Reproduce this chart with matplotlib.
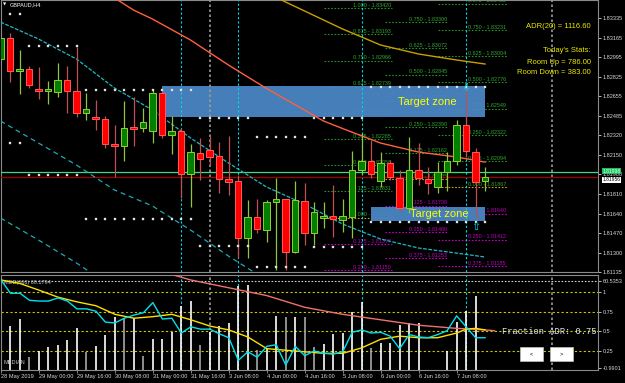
import numpy as np
import matplotlib.pyplot as plt
from matplotlib.patches import Rectangle

plt.rcParams['font.family'] = ['Liberation Sans', 'DejaVu Sans']

W, H = 625, 383

# ---- GBPAUD H4 candles (bar index 0 = 28 May 2019 08:00) ----
opens = [1.82979, 1.83162, 1.82875, 1.82893, 1.82719, 1.82702, 1.82693, 1.82797, 1.82702, 1.82511,
         1.82477, 1.82459, 1.82243, 1.82225, 1.82386, 1.82381, 1.82355, 1.82685, 1.82321, 1.82355,
         1.81982, 1.82164, 1.82190, 1.82138, 1.81939, 1.81922, 1.81428, 1.81610, 1.81497, 1.81740,
         1.81766, 1.81306, 1.81748, 1.81471, 1.81601, 1.81618, 1.81584, 1.81610, 1.82017, 1.82095,
         1.81922, 1.82078, 1.81948, 1.81688, 1.82017, 1.81939, 1.81870, 1.82000, 1.82095, 1.82407,
         1.82173, 1.81922]
highs = [1.83179, 1.83205, 1.83057, 1.82919, 1.82910, 1.82789, 1.82945, 1.82919, 1.83084, 1.82685,
         1.82624, 1.82485, 1.82407, 1.82615, 1.82650, 1.82555, 1.82711, 1.82693, 1.82485, 1.82381,
         1.82243, 1.82295, 1.82321, 1.82260, 1.82312, 1.81974, 1.81757, 1.81766, 1.81757, 1.81948,
         1.81770, 1.81922, 1.81904, 1.81740, 1.81740, 1.81887, 1.81766, 1.82182, 1.82338, 1.82277,
         1.82173, 1.82104, 1.82017, 1.82303, 1.82251, 1.82043, 1.82086, 1.82173, 1.82451, 1.82728,
         1.82208, 1.82043]
lows = [1.82953, 1.82780, 1.82676, 1.82728, 1.82633, 1.82589, 1.82650, 1.82511, 1.82477, 1.82451,
        1.82364, 1.82208, 1.81956, 1.82095, 1.82225, 1.82347, 1.82251, 1.82295, 1.82156, 1.81774,
        1.81696, 1.81930, 1.82060, 1.81818, 1.81800, 1.81254, 1.81254, 1.81471, 1.81393, 1.81150,
        1.81150, 1.81297, 1.81367, 1.81367, 1.81514, 1.81436, 1.81480, 1.81428, 1.81974, 1.81948,
        1.81870, 1.81930, 1.81662, 1.81644, 1.81887, 1.81809, 1.81818, 1.81835, 1.82060, 1.82130,
        1.81601, 1.81835]
closes = [1.83162, 1.82875, 1.82893, 1.82754, 1.82702, 1.82711, 1.82797, 1.82702, 1.82511, 1.82546,
          1.82459, 1.82243, 1.82225, 1.82381, 1.82373, 1.82433, 1.82685, 1.82321, 1.82355, 1.81982,
          1.82173, 1.82112, 1.82130, 1.81939, 1.81913, 1.81428, 1.81610, 1.81506, 1.81740, 1.81766,
          1.81306, 1.81757, 1.81471, 1.81653, 1.81618, 1.81592, 1.81618, 1.82017, 1.82095, 1.81982,
          1.82078, 1.81956, 1.81688, 1.82017, 1.81948, 1.81904, 1.82000, 1.82095, 1.82407, 1.82182,
          1.81913, 1.81956]

time_ticks = [0, 4, 8, 12, 16, 20, 24, 28, 32, 36, 40, 44, 48]
time_labels = ['28 May 2019', '29 May 00:00', '29 May 16:00', '30 May 08:00', '31 May 00:00',
               '31 May 16:00', '3 Jun 08:00', '4 Jun 00:00', '4 Jun 16:00', '5 Jun 08:00',
               '6 Jun 00:00', '6 Jun 16:00', '7 Jun 08:00']

price_ticks = [1.83335, 1.83165, 1.82995, 1.82825, 1.82655, 1.82485, 1.82320, 1.82150,
               1.81980, 1.81810, 1.81640, 1.81470, 1.81300, 1.81135]

# moving averages
ma_red_x = [12, 14, 16, 20, 24, 28, 32, 34, 36, 40, 44, 48, 51]
ma_red = [1.83508, 1.83404, 1.83326, 1.83144, 1.82927, 1.82724, 1.82537, 1.82442, 1.82377,
          1.82251, 1.82173, 1.82130, 1.82086]
ma_gold_x = [28, 32, 36, 40, 44, 48, 51]
ma_gold = [1.83552, 1.83396, 1.83240, 1.83101, 1.83023, 1.82971, 1.82936]
ma_cyan_x = [0, 4, 8, 12, 16, 20, 24, 28, 32, 36, 40, 44, 48, 51]
ma_cyan = [1.83300, 1.83153, 1.82979, 1.82728, 1.82537, 1.82295, 1.82078, 1.81870, 1.81722,
           1.81549, 1.81419, 1.81341, 1.81297, 1.81263]
band_mid_x = [0, 4, 8, 12, 16, 20, 24, 28]
band_mid = [1.82442, 1.82251, 1.82060, 1.81844, 1.81705, 1.81497, 1.81271, 1.81063]
band_low_x = [0, 4, 8, 12]
band_low = [1.81601, 1.81410, 1.81211, 1.80990]

# dotted support / resistance segments
dot_start = [0, 3, 9, 21, 27, 33, 39]
dot_end = [2, 8, 20, 26, 32, 38, 51]
dot_high = [1.83370, 1.83092, 1.82711, 1.82468, 1.82303, 1.82468, 1.82737]
dot_low = [1.82251, 1.81974, 1.81592, 1.81358, 1.81176, 1.81350, 1.81566]

# target zones
zone_start = [17, 39]
zone_end = [51, 51]
zone_bottom = [1.82477, 1.81575]
zone_top = [1.82745, 1.81696]

# daily fibonacci grids
fib_spans = [(34.0, 41.2), (40.5, 47.1), (46.0, 53.3)]
fib_prices = [
    [1.83420, 1.83193, 1.82966, 1.82739, 1.82512, 1.82285, 1.82058, 1.81831, 1.81604, 1.81377, 1.81150],
    [1.83527, 1.83300, 1.83072, 1.82845, 1.82617, 1.82390, 1.82162, 1.81935, 1.81708, 1.81480, 1.81253],
    [1.83458, 1.83231, 1.83004, 1.82776, 1.82549, 1.82322, 1.82094, 1.81867, 1.81640, 1.81412, 1.81185],
]
fib_ratios = [
    ['1.000', '0.875', '0.750', '0.625', '0.500', '0.375', '0.250', '0.125', '0.000', '0.125', '0.250'],
    ['0.875', '0.750', '0.625', '0.500', '0.375', '0.250', '0.125', '0.000', '0.125', '0.250', '0.375'],
    ['0.875', '0.750', '0.625', '0.500', '0.375', '0.250', '0.125', '0.000', '0.125', '0.250', '0.375'],
]

ask_price = 1.81998
bid_price = 1.81956
cyan_vlines = [19, 25, 38, 49]
gray_vlines = [22, 58]

# lower indicator panel
frac_cyan = [1.16, 0.99, 0.99, 0.90, 0.89, 0.89, 0.93, 0.89, 0.79, 0.79, 0.76, 0.62, 0.61,
             0.67, 0.71, 0.74, 0.87, 0.66, 0.67, 0.48, 0.56, 0.53, 0.53, 0.47, 0.42, 0.13,
             0.24, 0.17, 0.31, 0.33, 0.07, 0.31, 0.19, 0.25, 0.22, 0.21, 0.24, 0.49, 0.52,
             0.48, 0.49, 0.44, 0.28, 0.46, 0.43, 0.42, 0.46, 0.51, 0.70, 0.56, 0.42, 0.42]
frac_gold_x = [0, 2, 4, 6, 8, 10, 12, 14, 16, 18, 20, 22, 24, 26, 28, 30, 32, 34, 36, 38,
               40, 42, 44, 46, 48, 49, 50, 51]
frac_gold = [1.16, 1.115, 1.03, 0.94, 0.88, 0.83, 0.72, 0.67, 0.69, 0.72, 0.65, 0.57, 0.52,
             0.43, 0.28, 0.26, 0.24, 0.22, 0.22, 0.29, 0.40, 0.44, 0.42, 0.42, 0.48, 0.53,
             0.54, 0.52]
frac_red_x = [18, 20, 24, 28, 32, 36, 40, 44, 48, 51, 52]
frac_red = [1.23, 1.16, 1.06, 0.96, 0.81, 0.72, 0.65, 0.58, 0.54, 0.52, 0.51]
frac_hist = [0, 0.57, 0.66, 0.17, 0.25, 0.30, 0.33, 0.39, 0.54, 0.24, 0.31, 0.46, 0.69, 0.67,
             0.67, 0.19, 0.40, 0.40, 0.49, 0.83, 0.89, 0.33, 0.49, 0.57, 0.61, 1.08, 1.10,
             0.26, 0.28, 0.70, 0.69, 0.69, 0.68, 0.30, 0.34, 0.47, 0.48, 0.75, 0.88, 0.29,
             0.35, 0.35, 0.58, 0.61, 0.61, 0, 0, 0.25, 0.62, 0.76, 0.96, 0]
frac_levels = [1.0, 0.75, 0.5, 0.25]
median_level = 1.147
frac_ticks = [1.147, 1.0, 0.75, 0.5, 0.25, 0.03]
frac_tick_labels = ['60.5353', '1', '0.75', '0.5', '0.25', '-0.9901']


def fx(px):
    return px / W


def fy(py):
    return 1 - py / H


fig = plt.figure(figsize=(W / 100, H / 100), dpi=100, facecolor='black')

xlim = ((1 - 0.5) / 9.5, (598 - 0.5) / 9.5)
ylim = (1.81133, 1.83491)
ax = fig.add_axes([fx(1), fy(272), fx(597), 272 / H], facecolor='black')
ax.set_xlim(*xlim)
ax.set_ylim(*ylim)

# fibonacci grids (behind zones)
for (x0, x1), prices, ratios in zip(fib_spans, fib_prices, fib_ratios):
    below = False
    for p, r in zip(prices, ratios):
        if r == '0.000':
            lc, tc = '#d4a017', '#2fa82f'
        elif below:
            lc, tc = '#c000c0', '#c000c0'
        else:
            lc, tc = '#2a8f2a', '#2fa82f'
        ax.plot([x0, x1], [p, p], color=lc, lw=0.8, dashes=(1.5, 1.5), zorder=2)
        if p < ylim[1]:
            ax.text(x1 - 0.1, p + 0.00003, f'{r} - {p:.5f}', color=tc, fontsize=3.9,
                    ha='right', va='bottom', zorder=2, clip_on=True)
        if r == '0.000':
            below = True

# target zones
label_frac = [0.82, 0.6]
for s, e, b, t, lf in zip(zone_start, zone_end, zone_bottom, zone_top, label_frac):
    ax.add_patch(Rectangle((s, b), e - s, t - b, facecolor='#4a86c4', edgecolor='none',
                           alpha=0.95, zorder=3))
    ax.text(s + (e - s) * lf, (b + t) / 2, 'Target zone',
            color='#ffff00', fontsize=8, ha='center', va='center', zorder=8)

# vertical markers
for v in cyan_vlines:
    ax.axvline(v, color='#00d8e8', lw=0.8, dashes=(2, 2), zorder=3.5)
for v in gray_vlines:
    ax.axvline(v, color='#9a9a9a', lw=1.2, dashes=(1.5, 1.5), zorder=3.5)

# price lines
ax.axhline(ask_price, color='#3ddc84', lw=0.9, zorder=3.6)
ax.axhline(bid_price, color='#a00000', lw=0.9, zorder=3.6)

# moving averages and bands
ax.plot(ma_red_x, ma_red, color='#ff6040', lw=1.0, zorder=4)
ax.plot(ma_gold_x, ma_gold, color='#c8a000', lw=1.0, zorder=4)
ax.plot(ma_cyan_x, ma_cyan, color='#1fb8c3', lw=0.9, dashes=(3, 1.2), zorder=4)
ax.plot(band_mid_x, band_mid, color='#1fa8b8', lw=0.9, dashes=(4, 3), zorder=4)
ax.plot(band_low_x, band_low, color='#1fa8b8', lw=0.9, dashes=(4, 3), zorder=4)

# candles
bw = 0.7
for i in range(len(opens)):
    o, hi, lo, c = opens[i], highs[i], lows[i], closes[i]
    up = c >= o
    ax.vlines(i, lo, hi, color='#8cc63f' if up else '#c05050', lw=0.9, zorder=5)
    ax.add_patch(Rectangle((i - bw / 2, min(o, c)), bw, max(abs(c - o), 0.00015),
                           facecolor='#008000' if up else '#ff0000',
                           edgecolor='#9acd32' if up else '#ff5a5a', lw=0.7, zorder=6))

# dotted levels
for s, e, hp, lp in zip(dot_start, dot_end, dot_high, dot_low):
    xs = np.arange(s, e + 1)
    ax.plot(xs, [hp] * len(xs), 's', color='white', ms=2.0, mec='#b0b0b0', mew=0.3, zorder=7)
    ax.plot(xs, [lp] * len(xs), 's', color='white', ms=2.0, mec='#b0b0b0', mew=0.3, zorder=7)

# signal arrows
ax.text(49, highs[49] + 0.00005, '\u21e9', color='#00d8e8', fontsize=8, ha='center',
        va='center', family='DejaVu Sans', zorder=8)
ax.text(50, lows[50] - 0.00078, '\u21e7', color='#00d8e8', fontsize=8, ha='center',
        va='center', family='DejaVu Sans', zorder=8)

ax.yaxis.tick_right()
ax.set_yticks(price_ticks)
ax.set_yticklabels([f'{p:.5f}' for p in price_ticks])
ax.tick_params(axis='y', colors='#d8d8d8', labelsize=4, length=2, pad=1.5, width=0.6)
ax.set_xticks([])
for sp in ax.spines.values():
    sp.set_color('#8a8a8a')
    sp.set_linewidth(0.8)

# price boxes on the axis
ax.annotate(f'{ask_price:.5f}', xy=(1.0, ask_price), xycoords=('axes fraction', 'data'),
            xytext=(3, 0.8), textcoords='offset points', fontsize=3.6, color='#f0fff0',
            va='center', ha='left',
            bbox=dict(boxstyle='square,pad=0.1', fc='#19c060', ec='none'), zorder=10,
            annotation_clip=False)
ax.annotate(f'{bid_price:.5f}', xy=(1.0, bid_price), xycoords=('axes fraction', 'data'),
            xytext=(3, -1.8), textcoords='offset points', fontsize=3.6, color='black',
            va='center', ha='left',
            bbox=dict(boxstyle='square,pad=0.1', fc='white', ec='none'), zorder=11,
            annotation_clip=False)

# ---- indicator panel ----
ax2 = fig.add_axes([fx(1), fy(370), fx(597), 95 / H], facecolor='black')
ax2.set_xlim(*xlim)
ax2.set_ylim(0.0064, 1.224)

for lv in frac_levels:
    ax2.axhline(lv, color='#c8c800', lw=0.8, dashes=(2, 2), zorder=1)
ax2.axhline(median_level, color='#d0d0d0', lw=0.8, dashes=(1.5, 1.5), zorder=1)
for v in cyan_vlines:
    ax2.axvline(v, color='#00d8e8', lw=0.8, dashes=(2, 2), zorder=1)
for v in gray_vlines:
    ax2.axvline(v, color='#9a9a9a', lw=1.2, dashes=(1.5, 1.5), zorder=1)

for i, hv in enumerate(frac_hist):
    if hv <= 0:
        continue
    prev = frac_hist[i - 1] if i > 0 else 0
    ax2.vlines(i, 0, hv, color='white' if hv >= prev else '#a8a8a8', lw=1.2, zorder=2)

ax2.plot(frac_red_x, frac_red, color='#f07070', lw=1.0, zorder=3)
ax2.plot(frac_gold_x, frac_gold, color='#ffe000', lw=1.0, zorder=4)
ax2.plot(range(len(frac_cyan)), frac_cyan, color='#00e0f0', lw=1.0, zorder=5)

ax2.yaxis.tick_right()
ax2.set_yticks(frac_ticks)
ax2.set_yticklabels(frac_tick_labels)
ax2.tick_params(axis='y', colors='#d8d8d8', labelsize=4, length=2, pad=1.5, width=0.6)
ax2.set_xticks(time_ticks)
ax2.set_xticklabels(time_labels, ha='left')
ax2.tick_params(axis='x', colors='#9a9a9a', labelcolor='#d8d8d8', labelsize=4.1,
                length=2, pad=1.2, width=0.6)
for sp in ax2.spines.values():
    sp.set_color('#8a8a8a')
    sp.set_linewidth(0.8)

ax2.text(0.005, 0.92, 'MED(666) 60.1794', transform=ax2.transAxes, color='#c8c8c8',
         fontsize=4, va='center', ha='left')
ax2.text(0.005, 0.05, 'MEDIAN', transform=ax2.transAxes, color='#c8c8c8',
         fontsize=4, va='bottom', ha='left')

# ---- overlay texts ----
fig.text(fx(10), fy(5), 'GBPAUD,H4', color='white', fontsize=4, va='center', ha='left')
fig.text(fx(3), fy(5), '\u25bc', color='white', fontsize=3, va='center', ha='left',
         family='DejaVu Sans')
fig.text(fx(591), fy(26), 'ADR(20) = 1116.60', color='#e8e800', fontsize=5.5,
         ha='right', va='center')
fig.text(fx(591), fy(51), "Today's Stats:", color='#e8e800', fontsize=5.5,
         ha='right', va='center')
fig.text(fx(591), fy(62), 'Room Up = 786.00', color='#e8e800', fontsize=5.5,
         ha='right', va='center')
fig.text(fx(591), fy(73), 'Room Down = 383.00', color='#e8e800', fontsize=5.5,
         ha='right', va='center')
fig.text(fx(502), fy(331), 'Fraction ADR: 0.75', color='#e8e8e8', fontsize=6.3,
         family=['Liberation Mono', 'DejaVu Sans Mono'], ha='left', va='center')

for bx, sym in [(520, '<'), (550, '>')]:
    fig.add_artist(Rectangle((fx(bx), fy(361)), 23 / W, 14 / H, transform=fig.transFigure,
                             facecolor='white', edgecolor='#c0c0c0', lw=0.5))
    fig.text(fx(bx + 11.5), fy(354), sym, color='black', fontsize=4, ha='center', va='center')

fig.savefig('out.png', dpi=100, facecolor='black')
